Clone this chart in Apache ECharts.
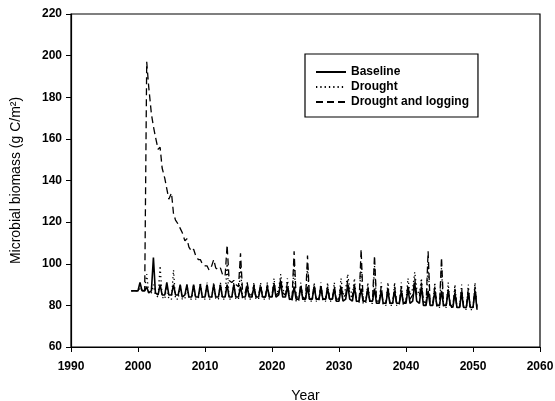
<!DOCTYPE html>
<html>
<head>
<meta charset="utf-8">
<script src="https://cdn.jsdelivr.net/npm/echarts@6/dist/echarts.min.js"></script>
<style>html,body{margin:0;padding:0;background:#fff}#c{width:555px;height:401px}</style>
</head>
<body>
<div id="c"></div>
<script>
// Sample years; each year holds three samples at year + offset
var years = [1999,2000,2001,2002,2003,2004,2005,2006,2007,2008,2009,2010,2011,2012,2013,2014,2015,2016,2017,2018,2019,2020,2021,2022,2023,2024,2025,2026,2027,2028,2029,2030,2031,2032,2033,2034,2035,2036,2037,2038,2039,2040,2041,2042,2043,2044,2045,2046,2047,2048,2049,2050];
var sampleOffsets = [0, 0.3, 0.6];

var baseline = [
[87,87,87],[87,91,87],[87,89,86],[87,103,86],[85,90,85],[85,91,85],[85,90,85],[85,90,84],[85,90,84],[84,90,84],
[84,90,84],[84,90,84],[84,90,84],[84,90,84],[84,90,84],[84,90,84],[84,89,84],[84,89,84],[84,89,84],[84,89,84],
[84,89,84],[84,90,84],[85,91,84],[84,89,83],[83,89,83],[83,89,83],[83,89,83],[83,89,83],[83,88,83],[83,88,83],
[83,88,82],[82,88,82],[83,90,83],[82,89,82],[82,88,82],[82,88,82],[82,88,81],[81,87,81],[81,87,81],[81,87,81],
[81,87,81],[81,88,81],[82,91,82],[81,89,80],[80,87,80],[80,87,80],[80,87,80],[80,87,80],[79,86,79],[79,86,79],
[79,86,79],[79,87,78]
];
var drought = [
[87,87,87],[87,88,87],[88,95,86],[86,90,85],[84,99,84],[83,90,83],[83,97,83],[83,90,83],[83,90,83],[83,90,83],
[83,91,83],[83,91,83],[83,91,83],[83,91,83],[83,100,83],[83,91,83],[83,99,83],[83,91,83],[83,91,83],[83,91,83],
[83,91,83],[84,93,85],[88,95,88],[85,93,83],[82,100,82],[82,91,82],[82,99,82],[82,91,82],[82,91,82],[82,91,82],
[82,91,82],[83,93,85],[88,95,88],[85,93,82],[81,101,81],[81,91,81],[81,99,81],[81,91,80],[80,91,80],[80,91,80],
[80,91,80],[82,93,85],[88,96,88],[85,93,81],[80,100,80],[80,91,79],[79,98,79],[79,91,79],[79,90,79],[79,90,79],
[78,90,78],[78,91,78]
];
var droughtLogging = [
[87,87,87],[87,87,87],[87,197,185],[172,166,161],[155,156,146],[141,136,131],[134,124,121],[119,117,115],[111,112,108],[106,107,104],
[102,102,100],[99,99,97],[99,102,98],[97,98,95],[94,109,92],[91,92,90],[89,105,87],[86,91,85],[85,90,84],[85,90,84],
[84,90,84],[85,91,85],[86,93,86],[85,91,84],[84,106,84],[84,90,84],[83,104,83],[83,90,83],[83,90,83],[83,89,83],
[83,89,83],[83,90,84],[85,92,85],[84,90,83],[82,107,82],[82,89,82],[82,104,82],[82,89,81],[81,89,81],[81,89,81],
[81,89,81],[82,90,83],[85,93,85],[84,91,82],[81,106,81],[81,89,80],[80,103,80],[80,88,80],[80,88,79],[79,88,79],
[79,88,79],[79,89,79]
];
var seriesNames = ['Baseline', 'Drought', 'Drought and logging'];
var xTicks = [1990, 2000, 2010, 2020, 2030, 2040, 2050, 2060];
var yTicks = [60, 80, 100, 120, 140, 160, 180, 200, 220];

function toPoints(rows) {
  var pts = [];
  for (var i = 0; i < years.length; i++) {
    for (var k = 0; k < sampleOffsets.length; k++) {
      pts.push([years[i] + sampleOffsets[k], rows[i][k]]);
    }
  }
  return pts;
}

var font = 'Liberation Sans, Arial, Helvetica, sans-serif';
var chart = echarts.init(document.getElementById('c'), null, {renderer: 'canvas'});
chart.setOption({
  animation: false,
  backgroundColor: '#fff',
  grid: {left: 71, right: 15, top: 14, bottom: 54, show: true, borderColor: '#000', borderWidth: 1.2,
         containLabel: false, outerBoundsMode: 'none'},
  legend: {
    orient: 'vertical', left: 305, top: 54,
    data: seriesNames,
    itemWidth: 30, itemHeight: 14, itemGap: 3,
    padding: [12, 9, 9, 10],
    borderColor: '#000', borderWidth: 1.2, backgroundColor: '#fff',
    itemStyle: {color: 'rgba(0,0,0,0)', borderWidth: 0, opacity: 0},
    textStyle: {fontFamily: font, fontSize: 12, fontWeight: 'bold', color: '#000'}
  },
  xAxis: {
    type: 'value', min: xTicks[0], max: xTicks[xTicks.length - 1], interval: 10,
    name: 'Year', nameLocation: 'middle', nameGap: 42,
    nameTextStyle: {fontFamily: font, fontSize: 14, color: '#000'},
    axisLine: {lineStyle: {color: '#000', width: 1.2}},
    axisTick: {inside: false, length: 5, lineStyle: {color: '#000'}},
    axisLabel: {fontFamily: font, fontSize: 12, fontWeight: 'bold', color: '#000', margin: 14,
                formatter: function (v) { return String(v); }},
    splitLine: {show: false}
  },
  yAxis: {
    type: 'value', min: yTicks[0], max: yTicks[yTicks.length - 1], interval: 20,
    name: 'Microbial biomass (g C/m\u00B2)', nameLocation: 'middle', nameGap: 48,
    nameTextStyle: {fontFamily: font, fontSize: 14, color: '#000'},
    axisLine: {lineStyle: {color: '#000', width: 1.2}},
    axisTick: {inside: false, length: 5, lineStyle: {color: '#000'}},
    axisLabel: {fontFamily: font, fontSize: 12, fontWeight: 'bold', color: '#000', margin: 9},
    splitLine: {show: false}
  },
  series: [
    {name: seriesNames[0], type: 'line', showSymbol: false, symbol: 'none', data: toPoints(baseline),
     lineStyle: {color: '#000', width: 1.6, type: 'solid'}, itemStyle: {color: '#000'}, z: 3},
    {name: seriesNames[1], type: 'line', showSymbol: false, symbol: 'none', data: toPoints(drought),
     lineStyle: {color: '#000', width: 1.3, type: [1.3, 3]}, itemStyle: {color: '#000'}, z: 2},
    {name: seriesNames[2], type: 'line', showSymbol: false, symbol: 'none', data: toPoints(droughtLogging),
     lineStyle: {color: '#000', width: 1.3, type: [7, 4]}, itemStyle: {color: '#000'}, z: 4}
  ]
});
</script>
</body>
</html>
